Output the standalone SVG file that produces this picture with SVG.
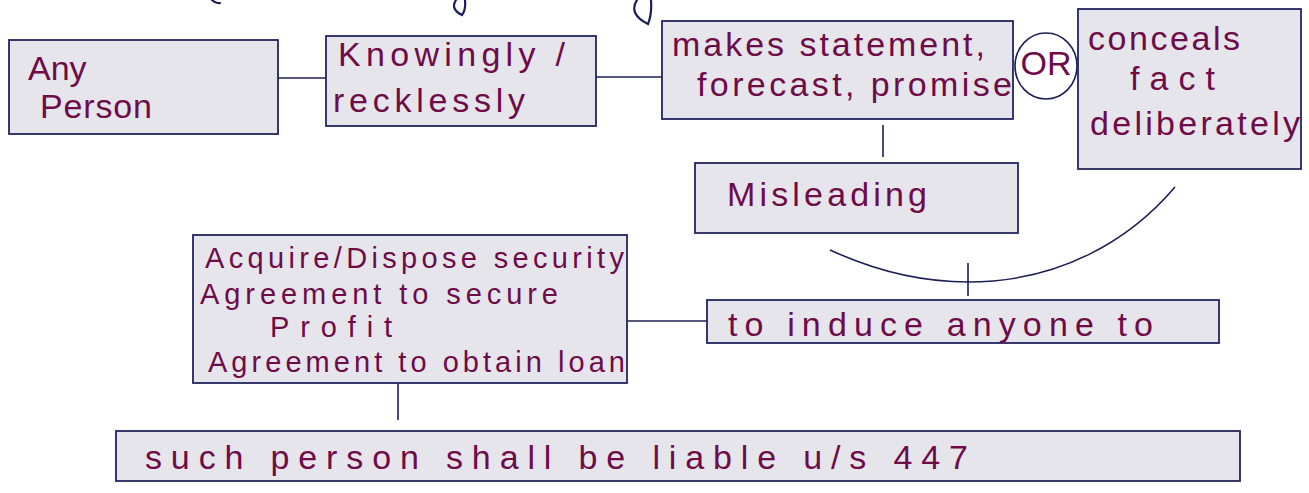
<svg xmlns="http://www.w3.org/2000/svg" width="1309" height="493" viewBox="0 0 1309 493">
<style>
.box{fill:#e6e5ec;stroke:#23255e;stroke-width:1.8}
.ln{fill:none;stroke:#1c1f55;stroke-width:1.6}
.ink{fill:none;stroke:#1c1f55;stroke-width:2.2;stroke-linecap:round}
.t{font-family:"Liberation Sans","DejaVu Sans",sans-serif;font-size:34px;fill:#6e0c48}
.s{font-size:29px}
</style>
<rect width="1309" height="493" fill="#ffffff"/>
<g id="fragments">
<path class="ink" d="M212,0 Q216,4 220,3"/>
<path class="ink" d="M456,0 Q450,9 462,15 Q466,10 465,0"/>
<path class="ink" d="M637,0 Q628,14 648,24 Q652,14 651,0"/>
</g>
<g id="connectors">
<line class="ln" x1="278" y1="78" x2="326" y2="78"/>
<line class="ln" x1="596" y1="77" x2="662" y2="77"/>
<line class="ln" x1="883" y1="125" x2="883" y2="157"/>
<path class="ln" d="M830,250 C880,273 925,282 968,282 C1060,282 1130,240 1175,187"/>
<line class="ln" x1="968" y1="263" x2="968" y2="296"/>
<line class="ln" x1="627" y1="321" x2="711" y2="321"/>
<line class="ln" x1="398" y1="383" x2="398" y2="420"/>
</g>
<g id="any-person">
<rect class="box" x="9" y="40" width="269" height="94"/>
<text class="t" x="28" y="80" font-size="29">Any</text>
<text class="t" x="40" y="118" textLength="112" lengthAdjust="spacing">Person</text>
</g>
<g id="knowingly">
<rect class="box" x="326" y="36" width="270" height="90"/>
<text class="t" x="338" y="66" textLength="227" lengthAdjust="spacing">Knowingly /</text>
<text class="t" x="333" y="112" textLength="192" lengthAdjust="spacing">recklessly</text>
</g>
<g id="makes-statement">
<rect class="box" x="662" y="21" width="351" height="98"/>
<text class="t" x="672" y="56" textLength="313" lengthAdjust="spacing">makes statement,</text>
<text class="t" x="697" y="96" textLength="315" lengthAdjust="spacing">forecast, promise</text>
</g>
<g id="or">
<ellipse cx="1046" cy="66" rx="31" ry="33" fill="#ffffff" stroke="#1c1f55" stroke-width="1.6"/>
<text class="t" x="1046" y="75" font-size="24" text-anchor="middle">OR</text>
</g>
<g id="conceals">
<rect class="box" x="1078" y="9" width="223" height="160"/>
<text class="t" x="1088" y="50" textLength="152" lengthAdjust="spacing">conceals</text>
<text class="t" x="1130" y="90" textLength="85" lengthAdjust="spacing">fact</text>
<text class="t" x="1090" y="135" textLength="210" lengthAdjust="spacing">deliberately</text>
</g>
<g id="misleading">
<rect class="box" x="695" y="163" width="323" height="70"/>
<text class="t" x="727" y="206" textLength="200" lengthAdjust="spacing">Misleading</text>
</g>
<g id="acquire">
<rect class="box" x="193" y="235" width="434" height="148"/>
<text class="t s" x="205" y="268" textLength="419" lengthAdjust="spacing">Acquire/Dispose security</text>
<text class="t s" x="200" y="304" textLength="358" lengthAdjust="spacing">Agreement to secure</text>
<text class="t s" x="270" y="337" textLength="122" lengthAdjust="spacing">Profit</text>
<text class="t s" x="208" y="372" textLength="417" lengthAdjust="spacing">Agreement to obtain loan</text>
</g>
<g id="induce">
<rect class="box" x="707" y="300" width="512" height="43"/>
<text class="t" x="728" y="336" textLength="425" lengthAdjust="spacing">to induce anyone to</text>
</g>
<g id="liable">
<rect class="box" x="116" y="431" width="1124" height="50"/>
<text class="t" x="145" y="469" font-size="36" textLength="823" lengthAdjust="spacing">such person shall be liable u/s 447</text>
</g>
</svg>
